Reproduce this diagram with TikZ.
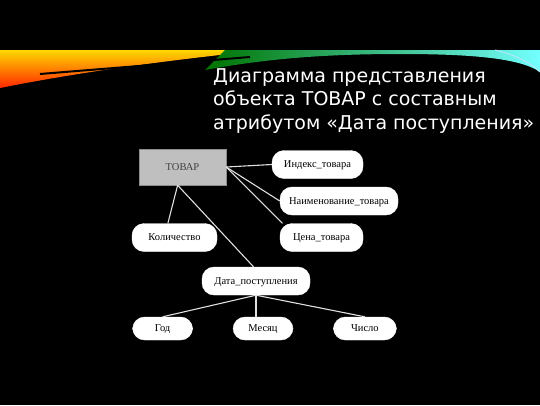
\documentclass[tikz,border=0pt]{standalone}
\usepackage{fontspec}
\setmainfont{Liberation Serif}
\newfontfamily\titlefont{DejaVu Sans}
\usetikzlibrary{positioning}

\begin{document}
\begin{tikzpicture}
[x=1pt, y=-1pt, font=\fontsize{10.5}{12}\selectfont,
% STYLES
% The entity style is used for the gray object box
entity/.style={rectangle, draw=black!45, fill=black!25, text=black!75, minimum width=87pt, minimum height=36pt, inner sep=2pt, text depth=0pt},
% The attr style is used for the white rounded attribute boxes
attr/.style={rectangle, rounded corners=12pt, draw=white, fill=white, text=black, minimum height=28pt, inner sep=2pt, text depth=0pt},
% The link style is used for the connecting lines
link/.style={draw=black!12, line width=1.1pt}]

% background and top band
\useasboundingbox (0,0) rectangle (540,405);
\fill[black] (0,0) rectangle (540,405);
\shade[top color=yellow!70!orange, bottom color=red!70!orange]
  (0,50) -- (265,50) .. controls (200,57) and (100,68) .. (0,88) -- cycle;
\shade[left color=green!45!black, right color=cyan!55]
  (225,50) -- (540,50) -- (540,72) .. controls (520,58) and (470,54) .. (400,54)
  .. controls (330,54) and (270,58) .. (205,70) -- cycle;
\draw[black, line width=2pt] (40,74) -- (250,57);
\draw[cyan!30, line width=1pt] (495,50) .. controls (515,55) and (530,62) .. (540,72);

% title
\node [anchor=north west, align=left, inner sep=0pt, text=white, font=\titlefont\fontsize{19}{23.5}\selectfont] (title) at (213,68)
  {Диаграмма представления\\объекта ТОВАР с составным\\атрибутом «Дата поступления»};

% Draw entity and attributes
\node [entity] (tovar) at (182.5,167) {ТОВАР};
\node [attr, minimum width=91pt] (index) at (317.5,164.5) {Индекс\_товара};
\node [attr, minimum width=118pt] (naim) at (339,201) {Наименование\_товара};
\node [attr, minimum width=83pt] (cena) at (321.5,237.5) {Цена\_товара};
\node [attr, minimum width=85pt] (kolich) at (174.5,237.5) {Количество};
\node [attr, minimum width=108pt] (data) at (256,281) {Дата\_поступления};

% parts of the composite attribute
\node [attr, minimum width=60pt, minimum height=23pt] (mesyac) at (263,328.5) {Месяц};
\node [attr, minimum width=60pt, minimum height=23pt, left=40pt of mesyac] (god) {Год};
\node [attr, minimum width=63pt, minimum height=23pt, right=40pt of mesyac] (chislo) {Число};

% Draw the links
\path[link]
(tovar.east) edge (index.west)
(tovar.east) edge (naim.west)
(tovar.east) edge (cena.160)
(tovar.255) edge (kolich.115)
(tovar.255) edge (data.100)
(data.south) edge (god.north)
(data.south) edge (data.south |- mesyac.north)
(data.south) edge (chislo.north);

\end{tikzpicture}
\end{document}
